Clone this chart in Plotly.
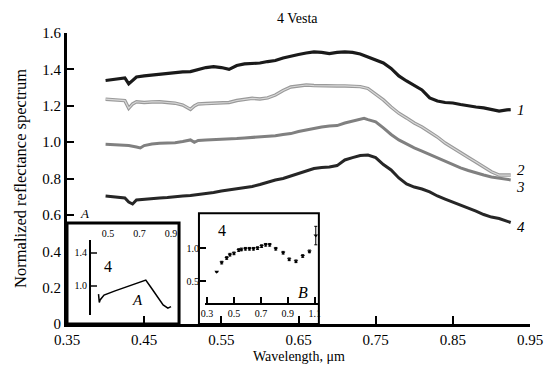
import plotly.graph_objects as go

FONT = "Liberation Serif"

# ---------------- data ----------------
wl1 = [0.40, 0.41, 0.42, 0.425, 0.43, 0.435, 0.44, 0.45, 0.46, 0.47, 0.48, 0.49, 0.50, 0.51, 0.52,
       0.53, 0.54, 0.55, 0.56, 0.57, 0.58, 0.59, 0.60, 0.61, 0.62, 0.63, 0.64, 0.65, 0.66, 0.67,
       0.68, 0.69, 0.70, 0.71, 0.72, 0.73, 0.74, 0.75, 0.76, 0.77, 0.78, 0.79, 0.80, 0.81, 0.82,
       0.83, 0.84, 0.85, 0.86, 0.87, 0.88, 0.89, 0.90, 0.91, 0.92, 0.925]
r1 = [1.339, 1.344, 1.350, 1.353, 1.320, 1.342, 1.358, 1.364, 1.369, 1.375, 1.380, 1.383, 1.386, 1.388, 1.399,
      1.410, 1.415, 1.410, 1.400, 1.421, 1.430, 1.432, 1.435, 1.443, 1.449, 1.463, 1.474, 1.482, 1.490, 1.496,
      1.493, 1.487, 1.493, 1.496, 1.493, 1.485, 1.468, 1.452, 1.435, 1.405, 1.364, 1.336, 1.311, 1.287, 1.243,
      1.226, 1.218, 1.215, 1.207, 1.199, 1.193, 1.188, 1.179, 1.171, 1.177, 1.179]

wl2 = [0.40, 0.41, 0.42, 0.425, 0.43, 0.435, 0.44, 0.45, 0.46, 0.47, 0.48, 0.49, 0.50, 0.505, 0.51,
       0.515, 0.52, 0.53, 0.54, 0.55, 0.56, 0.57, 0.58, 0.59, 0.60, 0.61, 0.62, 0.63, 0.64, 0.65,
       0.66, 0.67, 0.68, 0.69, 0.70, 0.71, 0.72, 0.73, 0.74, 0.75, 0.76, 0.77, 0.78, 0.79, 0.80,
       0.81, 0.82, 0.83, 0.84, 0.85, 0.86, 0.87, 0.88, 0.89, 0.90, 0.91, 0.92, 0.925]
r2 = [1.236, 1.233, 1.230, 1.228, 1.186, 1.210, 1.222, 1.218, 1.221, 1.222, 1.218, 1.214, 1.204, 1.193, 1.180,
      1.199, 1.210, 1.212, 1.214, 1.214, 1.218, 1.229, 1.237, 1.241, 1.237, 1.243, 1.259, 1.284, 1.303, 1.309,
      1.314, 1.311, 1.309, 1.309, 1.309, 1.309, 1.307, 1.305, 1.295, 1.265, 1.232, 1.193, 1.159, 1.133, 1.105,
      1.083, 1.056, 1.028, 0.995, 0.968, 0.940, 0.915, 0.891, 0.863, 0.837, 0.819, 0.819, 0.819]

wl3 = [0.40, 0.41, 0.42, 0.43, 0.44, 0.445, 0.45, 0.46, 0.47, 0.48, 0.49, 0.50, 0.51, 0.515, 0.52,
       0.53, 0.54, 0.55, 0.56, 0.57, 0.58, 0.59, 0.60, 0.61, 0.62, 0.63, 0.64, 0.65, 0.66, 0.67,
       0.68, 0.69, 0.70, 0.71, 0.72, 0.73, 0.735, 0.74, 0.75, 0.76, 0.77, 0.78, 0.79, 0.80, 0.81,
       0.82, 0.83, 0.84, 0.85, 0.86, 0.87, 0.88, 0.89, 0.90, 0.91, 0.92, 0.925]
r3 = [0.988, 0.986, 0.984, 0.981, 0.973, 0.968, 0.981, 0.990, 0.994, 0.995, 0.997, 1.003, 1.012, 0.999, 1.009,
      1.012, 1.013, 1.016, 1.017, 1.020, 1.023, 1.025, 1.027, 1.030, 1.035, 1.042, 1.047, 1.058, 1.067, 1.075,
      1.083, 1.089, 1.091, 1.105, 1.116, 1.127, 1.131, 1.124, 1.112, 1.078, 1.042, 1.012, 0.990, 0.968, 0.951,
      0.932, 0.913, 0.893, 0.874, 0.858, 0.844, 0.830, 0.819, 0.808, 0.800, 0.795, 0.792]

wl4 = [0.40, 0.41, 0.42, 0.425, 0.43, 0.435, 0.44, 0.45, 0.46, 0.47, 0.48, 0.49, 0.50, 0.51, 0.52,
       0.53, 0.54, 0.55, 0.56, 0.57, 0.58, 0.59, 0.60, 0.61, 0.62, 0.63, 0.64, 0.65, 0.66, 0.67,
       0.68, 0.69, 0.70, 0.71, 0.72, 0.73, 0.74, 0.75, 0.76, 0.77, 0.78, 0.79, 0.80, 0.81, 0.82,
       0.83, 0.84, 0.85, 0.86, 0.87, 0.88, 0.89, 0.90, 0.91, 0.92, 0.925]
r4 = [0.704, 0.701, 0.696, 0.693, 0.671, 0.660, 0.682, 0.687, 0.690, 0.693, 0.696, 0.698, 0.704, 0.707, 0.712,
      0.715, 0.723, 0.731, 0.737, 0.742, 0.748, 0.756, 0.767, 0.781, 0.792, 0.800, 0.814, 0.830, 0.844, 0.855,
      0.861, 0.863, 0.871, 0.902, 0.915, 0.926, 0.929, 0.915, 0.877, 0.847, 0.803, 0.770, 0.753, 0.742, 0.726,
      0.704, 0.687, 0.671, 0.654, 0.638, 0.621, 0.602, 0.588, 0.580, 0.566, 0.558]

# inset A spectrum
wlA = [0.44, 0.445, 0.45, 0.475, 0.545, 0.64, 0.74, 0.77, 0.82, 0.85, 0.88, 0.90]
rA = [0.90, 0.80, 0.83, 0.89, 0.94, 1.00, 1.07, 0.99, 0.85, 0.77, 0.73, 0.75]

# inset B photometry
wlB = [0.372, 0.409, 0.446, 0.47, 0.50, 0.535, 0.555, 0.585, 0.615, 0.645, 0.675, 0.705, 0.735, 0.765,
       0.81, 0.865, 0.91, 0.96, 1.01, 1.06, 1.107]
rB = [0.64, 0.78, 0.85, 0.90, 0.92, 0.97, 0.98, 0.99, 0.99, 0.99, 1.00, 1.03, 1.05, 1.05,
      0.99, 0.93, 0.83, 0.80, 0.88, 0.95, 1.19]
eB = [0.0, 0.02, 0.02, 0.02, 0.02, 0.02, 0.02, 0.02, 0.02, 0.02, 0.02, 0.02, 0.02, 0.02,
      0.02, 0.02, 0.02, 0.02, 0.02, 0.02, 0.14]

x_ticks = [0.35, 0.45, 0.55, 0.65, 0.75, 0.85, 0.95]
y_ticks = [0, 0.2, 0.4, 0.6, 0.8, 1.0, 1.2, 1.4, 1.6]
y_ticktext = ["0", "0.2", "0.4", "0.6", "0.8", "1.0", "1.2", "1.4", "1.6"]
curve_labels = ["1", "2", "3", "4"]
label_y = [1.177, 0.847, 0.753, 0.533]

# ---------------- figure ----------------
fig = go.Figure()

fig.add_trace(go.Scatter(x=wl1, y=r1, mode="lines", line=dict(color="#1a1a1a", width=3.2), hoverinfo="skip"))
fig.add_trace(go.Scatter(x=wl2, y=r2, mode="lines", line=dict(color="#9a9a9a", width=3.4), hoverinfo="skip"))
fig.add_trace(go.Scatter(x=wl2, y=r2, mode="lines", line=dict(color="#d8d8d8", width=1.2), hoverinfo="skip"))
fig.add_trace(go.Scatter(x=wl3, y=r3, mode="lines", line=dict(color="#808080", width=3.0), hoverinfo="skip"))
fig.add_trace(go.Scatter(x=wl4, y=r4, mode="lines", line=dict(color="#262626", width=3.0), hoverinfo="skip"))

fig.add_trace(go.Scatter(x=wlA, y=rA, xaxis="x2", yaxis="y2", mode="lines",
                         line=dict(color="black", width=1.5), hoverinfo="skip"))
fig.add_trace(go.Scatter(x=wlB, y=rB, xaxis="x3", yaxis="y3", mode="markers",
                         marker=dict(symbol="triangle-down", size=4, color="black"),
                         error_y=dict(type="data", array=eB, color="black", thickness=1, width=1.5),
                         hoverinfo="skip"))

tickfont = dict(family=FONT, size=15, color="black")
small = dict(family=FONT, size=10, color="black")

# page body has an 8px default margin, so the figure is offset by 8px; margins compensate
fig.update_layout(
    width=553, height=374,
    margin=dict(l=59, r=31, t=25, b=58),
    paper_bgcolor="white", plot_bgcolor="white",
    showlegend=False,
    font=dict(family=FONT, color="black"),
    xaxis=dict(range=[0.35, 0.95], domain=[0, 1], tickvals=x_ticks, ticktext=[f"{v:.2f}" for v in x_ticks],
               showgrid=False, zeroline=False, showline=True, linecolor="black", linewidth=2.5,
               ticks="inside", ticklen=8, tickwidth=2, tickcolor="black", tickfont=tickfont,
               automargin=False),
    yaxis=dict(range=[0, 1.6], domain=[0, 1], tickvals=y_ticks, ticktext=y_ticktext,
               showgrid=False, zeroline=False, showline=True, linecolor="black", linewidth=3,
               ticks="inside", ticklen=7, tickwidth=2, tickcolor="black", tickfont=tickfont,
               automargin=False),
    # inset A axes
    xaxis2=dict(domain=[0, 0.242], range=[0.24, 0.951], anchor="y2", side="top",
                tickvals=[0.5, 0.7, 0.9], ticktext=["0.5", "0.7", "0.9"], ticks="",
                showline=False, showgrid=False, zeroline=False, tickfont=small, automargin=False),
    yaxis2=dict(domain=[0.031, 0.289], range=[0.648, 1.558], anchor="free", position=0.0497,
                tickvals=[1.0, 1.4], ticktext=["1.0", "1.4"], ticks="inside", ticklen=6, tickwidth=2,
                showline=True, linecolor="black", linewidth=2, showgrid=False, zeroline=False,
                tickfont=small, automargin=False),
    # inset B axes
    xaxis3=dict(domain=[0.298, 0.544], range=[0.285, 1.13], anchor="y3",
                tickvals=[0.3, 0.5, 0.7, 0.9, 1.1], ticktext=["0.3", "0.5", "0.7", "0.9", "1.1"],
                ticks="inside", ticklen=6, tickwidth=2, tickcolor="black",
                showline=True, linecolor="black", linewidth=2, showgrid=False, zeroline=False,
                tickfont=small, automargin=False),
    yaxis3=dict(domain=[0.072, 0.381], range=[0.167, 1.53], anchor="free", position=0.285,
                tickvals=[0.5, 1.0], ticktext=["0.5", "1.0"], ticks="inside", ticklen=6, tickwidth=2,
                tickcolor="black", showline=False, showgrid=False, zeroline=False,
                tickfont=small, automargin=False),
)

# inset frames
fig.add_shape(type="rect", xref="paper", yref="paper", x0=0, x1=0.242, y0=0, y1=0.347,
              line=dict(color="black", width=3), fillcolor="rgba(0,0,0,0)", layer="above")
fig.add_shape(type="rect", xref="paper", yref="paper", x0=0.285, x1=0.544, y0=0, y1=0.381,
              line=dict(color="black", width=2), fillcolor="rgba(0,0,0,0)", layer="above")

# title and axis titles
fig.add_annotation(x=0.497, y=1.0, xref="paper", yref="paper", yshift=15, text="4 Vesta",
                   showarrow=False, xanchor="center", yanchor="middle",
                   font=dict(family=FONT, size=14, color="black"))
fig.add_annotation(x=-0.0994, y=0.502, xref="paper", yref="paper", text="Normalized reflectance spectrum",
                   textangle=-90, showarrow=False, xanchor="center", yanchor="middle",
                   font=dict(family=FONT, size=16.5, color="black"))
fig.add_annotation(x=0.502, y=-0.110, xref="paper", yref="paper", text="Wavelength, μm",
                   showarrow=False, xanchor="center", yanchor="middle",
                   font=dict(family=FONT, size=14, color="black"))

# curve labels
for t, yv in zip(curve_labels, label_y):
    fig.add_annotation(x=0.938, y=yv, xref="x", yref="y", text=f"<i>{t}</i>", showarrow=False,
                       xanchor="center", yanchor="middle", font=dict(family=FONT, size=15, color="black"))

# inset annotations
ann = [
    (0.0886, 0.196, "4", 16),
    (0.153, 0.082, "<i>A</i>", 15),
    (0.037, 0.381, "<i>A</i>", 13),
    (0.335, 0.323, "4", 16),
    (0.510, 0.107, "<i>B</i>", 16),
]
for x, y, t, s in ann:
    fig.add_annotation(x=x, y=y, xref="paper", yref="paper", text=t, showarrow=False,
                       xanchor="center", yanchor="middle", font=dict(family=FONT, size=s, color="black"))

fig.write_html("out.html")
